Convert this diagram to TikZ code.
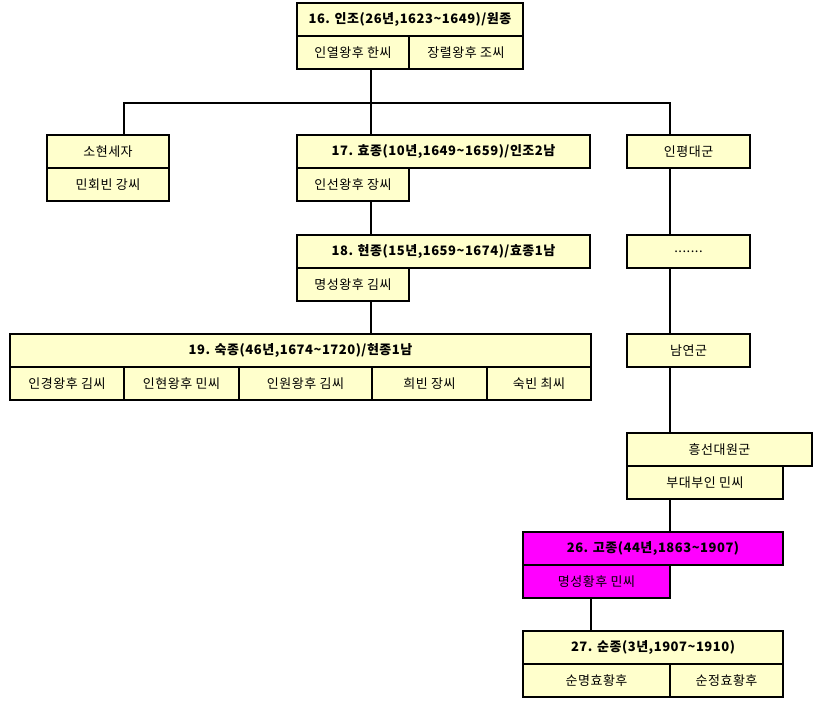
\documentclass[tikz,border=0pt]{standalone}
\usepackage{fontspec}
\setmainfont{Noto Sans CJK KR}[LetterSpace=4]
\usepackage{tikz}
\usetikzlibrary{positioning}
\definecolor{paleyellow}{HTML}{FFFFCC}
\definecolor{hotpink}{HTML}{FF00FF}
\tikzstyle{king} = [rectangle, anchor=north west, minimum height=33pt,
                    inner sep=0pt, outer sep=0pt, text centered,
                    draw=black, line width=2pt, fill=paleyellow,
                    font=\fontsize{13pt}{15pt}\selectfont\bfseries]
\tikzstyle{queen} = [king, font=\fontsize{13pt}{15pt}\selectfont]
\tikzstyle{link} = [line width=2pt]

\begin{document}
\begin{tikzpicture}[x=1pt, y=-1pt]
\useasboundingbox (0,0) rectangle (821,704);
% trunk and branch lines
\coordinate (trunk) at (371,103);
\coordinate (barL) at (124,103);
\coordinate (barR) at (670,103);
\coordinate (sunx) at (591,0);

% 16
\node (injo) [king, minimum width=226pt] at (297,3) {16. 인조(26년,1623\textasciitilde1649)/원종};
\node (injoA) [queen, minimum width=112pt] at (injo.south west) {인열왕후 한씨};
\node (injoB) [queen, minimum width=114pt] at (injoA.north east) {장렬왕후 조씨};

% sons of 16
\node (sohyeon) [queen, minimum width=122pt] at (47,135) {소현세자};
\node (sohyeonA) [queen, minimum width=122pt] at (sohyeon.south west) {민회빈 강씨};
\node (hyo) [king, minimum width=293pt] at (297,135) {17. 효종(10년,1649\textasciitilde1659)/인조2남};
\node (hyoA) [queen, minimum width=112pt] at (hyo.south west) {인선왕후 장씨};
\node (inpyeong) [queen, minimum width=123pt] at (627,135) {인평대군};

% 18
\node (hyeon) [king, minimum width=293pt] at (297,235) {18. 현종(15년,1659\textasciitilde1674)/효종1남};
\node (hyeonA) [queen, minimum width=112pt] at (hyeon.south west) {명성왕후 김씨};
\node (dots) [queen, minimum width=123pt] at (627,235) {.......};

% 19
\node (suk) [king, minimum width=581pt] at (10,334) {19. 숙종(46년,1674\textasciitilde1720)/현종1남};
\node (sukA) [queen, minimum width=114pt] at (suk.south west) {인경왕후 김씨};
\node (sukB) [queen, minimum width=115pt] at (sukA.north east) {인현왕후 민씨};
\node (sukC) [queen, minimum width=133pt] at (sukB.north east) {인원왕후 김씨};
\node (sukD) [queen, minimum width=115pt] at (sukC.north east) {희빈 장씨};
\node (sukE) [queen, minimum width=104pt] at (sukD.north east) {숙빈 최씨};
\node (namyeon) [queen, minimum width=123pt] at (627,334) {남연군};

% 흥선대원군
\node (heungseon) [queen, minimum width=185pt] at (627,433) {흥선대원군};
\node (heungseonA) [queen, minimum width=156pt] at (heungseon.south west) {부대부인 민씨};

% 26
\node (gojong) [king, fill=hotpink, minimum width=260pt] at (523,532) {26. 고종(44년,1863\textasciitilde1907)};
\node (gojongA) [queen, fill=hotpink, minimum width=147pt] at (gojong.south west) {명성황후 민씨};

% 27
\node (sunjong) [king, minimum width=260pt] at (523,631) {27. 순종(3년,1907\textasciitilde1910)};
\node (sunjongA) [queen, minimum width=147pt] at (sunjong.south west) {순명효황후};
\node (sunjongB) [queen, minimum width=113pt] at (sunjongA.north east) {순정효황후};

\draw [link] (trunk |- injoA.south) -- (trunk |- hyo.north);
\draw [link] (barL |- sohyeon.north) -- (barL) -- (barR) -- (barR |- inpyeong.north);
\draw [link] (trunk |- hyoA.south) -- (trunk |- hyeon.north);
\draw [link] (trunk |- hyeonA.south) -- (trunk |- suk.north);
\draw [link] (barR |- inpyeong.south) -- (barR |- dots.north);
\draw [link] (barR |- dots.south) -- (barR |- namyeon.north);
\draw [link] (barR |- namyeon.south) -- (barR |- heungseon.north);
\draw [link] (barR |- heungseonA.south) -- (barR |- gojong.north);
\draw [link] (sunx |- gojongA.south) -- (sunx |- sunjong.north);
\end{tikzpicture}
\end{document}
